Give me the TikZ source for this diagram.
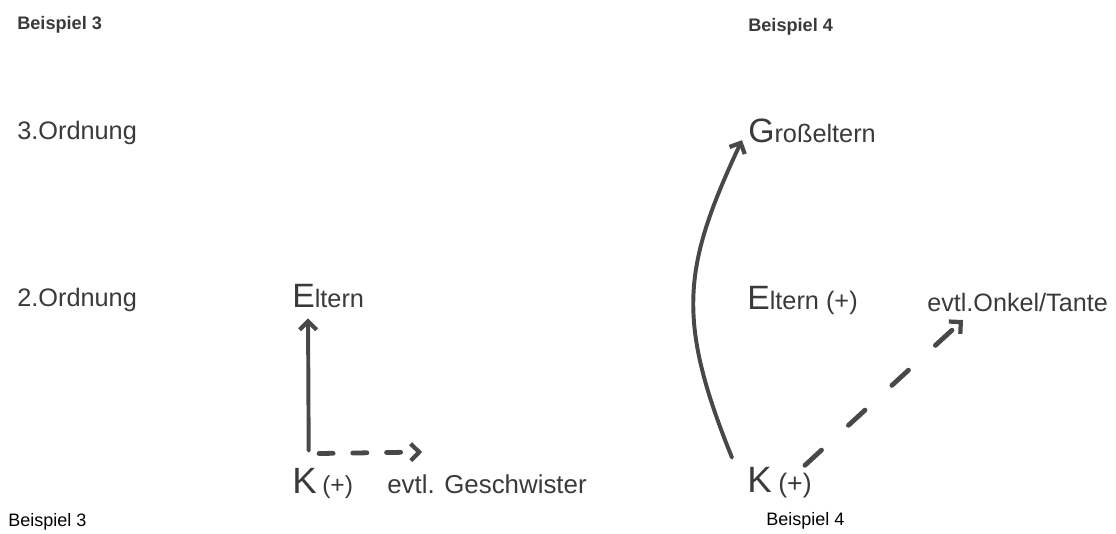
\documentclass[tikz,border=0pt]{standalone}
\usepackage{fontspec}
\setmainfont{Liberation Sans}
\usepackage{tikz}
\usetikzlibrary{positioning,calc}
\usetikzlibrary{arrows.meta}
\definecolor{ScanGray}{RGB}{58,58,58}
\definecolor{PenGray}{RGB}{72,72,72}
\newcommand{\fsz}[1]{\fontsize{#1}{#1}\selectfont}
\newcommand{\Ini}[1]{{\fsz{24pt}#1}}
\tikzset{
  lbl/.style={anchor=base west,inner sep=0pt,text=ScanGray,font=\fsz{18pt}},
  head/.style={anchor=base west,inner sep=0pt,text=ScanGray,font=\fsz{12.9pt}\bfseries},
  caption/.style={anchor=base west,inner sep=0pt,text=black,font=\fsz{12.8pt}},
  kid/.style={anchor=base west,inner sep=0pt,text=ScanGray,font=\fsz{26pt}},
  pen/.style={draw=PenGray,line width=2.8pt,line cap=round,
    -{Straight Barb[length=6pt,width=12pt,line width=3pt]}},
  penDash/.style={pen,line width=3.4pt},
}

\begin{document}
\begin{tikzpicture}[x=0.025cm,y=0.025cm]
\useasboundingbox (0,0) rectangle (1116,533);
% Beispiel 3
\node[head] (b3top) at (17,503) {Beispiel 3};
\node[lbl] (ord3) at (17,393) {3.Ordnung};
\node[lbl] (ord2) at (17,226) {2.Ordnung};
\node[lbl] (eltL) at (292,225) {\Ini{E}ltern};
\node[kid] (kL) at (292,40) {K};
\node[lbl,font=\fsz{17.5pt}] (kLp) at (322,40) {(+)};
\node[lbl,font=\fsz{18.4pt}] (geschw) at (387,40) {evtl. Geschwister};
\node[caption] (b3bot) at (8,7) {Beispiel 3};
\draw[pen] ([xshift=3pt,yshift=12pt]kL.north) -- ([xshift=11.4pt,yshift=-7pt]eltL.south west);
\draw[penDash,dash pattern=on 10pt off 14pt] ([xshift=1.5pt,yshift=10pt]kL.north east)
  -- ([xshift=25pt,yshift=15.6pt]geschw.north west);
% Beispiel 4
\node[head] (b4top) at (748,501) {Beispiel 4};
\node[lbl] (gross) at (748,390) {\Ini{G}roßeltern};
\node[lbl] (eltR) at (747,223) {\Ini{E}ltern (+)};
\node[lbl,font=\fsz{17.9pt}] (onkel) at (927,221) {evtl.Onkel/Tante};
\node[kid] (kR) at (747,41) {K};
\node[lbl,font=\fsz{19pt}] (kRp) at (778,41) {(+)};
\node[caption] (b4bot) at (766,8) {Beispiel 4};
\draw[pen] ([xshift=-10.7pt,yshift=6.4pt]kR.north west)
  .. controls +(112:150) and +(-115:140) .. ([xshift=-4.3pt,yshift=2pt]gross.base west);
\draw[penDash,dash pattern=on 16pt off 26pt] ([xshift=-5pt,yshift=5pt]kRp.north east)
  -- ([xshift=25.6pt,yshift=-5.7pt]onkel.base west);
\end{tikzpicture}
\end{document}
